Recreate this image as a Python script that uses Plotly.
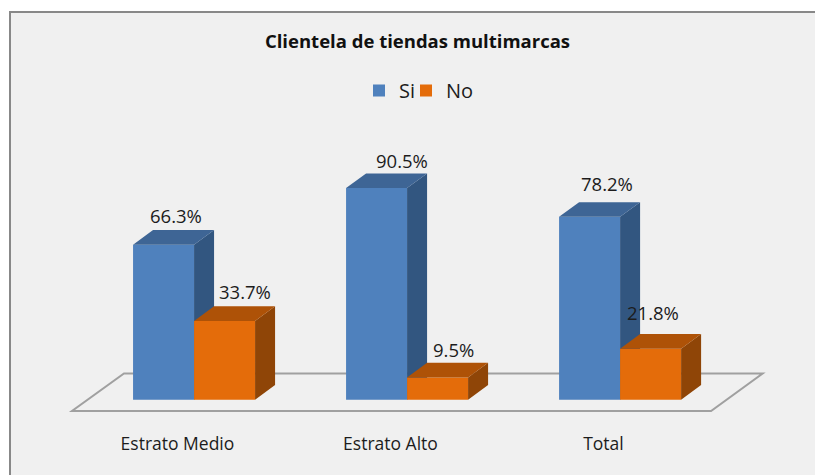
import plotly.graph_objects as go

categories = ["Estrato Medio", "Estrato Alto", "Total"]
si_values = [66.3, 90.5, 78.2]
no_values = [33.7, 9.5, 21.8]
positions = [0, 1, 2]

W, H = 815, 475
BAR_W = 0.2864
DEPTH_X, DEPTH_Y = 0.0939, 6.29
FONT = "Open Sans"
TEXT = "#1c1c1c"
X_RANGE = [-0.911, 2.915]
BOTTOM = 44
TICK_SHIFT = -0.078

# label nudges in pixels (from the front-top centre of each bar)
SI_LABEL = [(12, 29), (25, 28), (17, 33)]
NO_LABEL = [(20, 29), (16, 28), (2, 36)]


def faces(xs, vals, left):
    side_x, side_y, top_x, top_y = [], [], [], []
    for x, v in zip(xs, vals):
        l = x + left
        r = l + BAR_W
        side_x += [r, r + DEPTH_X, r + DEPTH_X, r, None]
        side_y += [0, DEPTH_Y, v + DEPTH_Y, v, None]
        top_x += [l, l + DEPTH_X, r + DEPTH_X, r, None]
        top_y += [v, v + DEPTH_Y, v + DEPTH_Y, v, None]
    return side_x, side_y, top_x, top_y


def face(x, y, color, xa, ya):
    return go.Scatter(x=x, y=y, mode="lines", fill="toself", fillcolor=color,
                      line=dict(width=0, color=color), showlegend=False,
                      hoverinfo="skip", xaxis=xa, yaxis=ya)


fig = go.Figure()
sx, sy, tx, ty = faces(positions, si_values, -BAR_W)
fig.add_trace(go.Bar(name="Si", x=positions, y=si_values, width=BAR_W, offset=-BAR_W,
                     marker=dict(color="#4f81bd", line=dict(width=0)), xaxis="x", yaxis="y",
                     legend="legend"))
fig.add_trace(face(sx, sy, "#325680", "x", "y"))
fig.add_trace(face(tx, ty, "#3e6595", "x", "y"))

sx, sy, tx, ty = faces(positions, no_values, 0)
fig.add_trace(go.Bar(name="No", x=positions, y=no_values, width=BAR_W, offset=0,
                     marker=dict(color="#e46c0a", line=dict(width=0)), xaxis="x2", yaxis="y2",
                     legend="legend2"))
fig.add_trace(face(sx, sy, "#8f4507", "x2", "y2"))
fig.add_trace(face(tx, ty, "#ae5207", "x2", "y2"))

annotations = []
for p, v, (dx, dy) in zip(positions, si_values, SI_LABEL):
    annotations.append(dict(x=p - BAR_W / 2, y=v, xref="x", yref="y", text=f"{v:.1f}%", showarrow=False,
                            xshift=dx, yshift=dy, font=dict(family=FONT, size=18.5, color=TEXT)))
for p, v, (dx, dy) in zip(positions, no_values, NO_LABEL):
    annotations.append(dict(x=p + BAR_W / 2, y=v, xref="x", yref="y", text=f"{v:.1f}%", showarrow=False,
                            xshift=dx, yshift=dy, font=dict(family=FONT, size=18.5, color=TEXT)))

pw = H - BOTTOM
shapes = [
    dict(type="rect", xref="paper", yref="paper", x0=10 / W, x1=1.02, y0=-0.12, y1=(pw - 12) / pw,
         fillcolor="#f0f0f0", line=dict(color="#888888", width=2), layer="below"),
    dict(type="path", xref="x", yref="y", layer="below", fillcolor="#f0f0f0",
         path="M -0.573 -4.83 L 2.427 -4.83 L 2.669 11.2 L -0.329 11.2 Z",
         line=dict(color="#a0a0a0", width=2)),
]

# y range follows the plot height so that 0 stays on the same pixel row
y_per_px = 1 / 2.338
Y_RANGE = [-(pw - 399.7) * y_per_px, 399.7 * y_per_px]

legend_style = dict(orientation="h", xanchor="left", y=1 - 71 / pw, yanchor="top",
                    bgcolor="rgba(0,0,0,0)", font=dict(family=FONT, size=20, color=TEXT))

fig.update_layout(
    width=W, height=H, margin=dict(l=0, r=0, t=0, b=BOTTOM),
    paper_bgcolor="white", plot_bgcolor="rgba(0,0,0,0)", autosize=False,
    title=dict(text="<b>Clientela de tiendas multimarcas</b>", x=417.5 / W, xanchor="center",
               y=1 - 42 / H, yanchor="middle", font=dict(family=FONT, size=18.5, color="#111111")),
    legend=dict(x=359 / W, **legend_style),
    legend2=dict(x=406 / W, **legend_style),
    xaxis=dict(range=X_RANGE, tickmode="array", tickvals=[p + TICK_SHIFT for p in positions],
               ticktext=categories, showgrid=False, zeroline=False, showline=False, ticks="",
               tickfont=dict(family=FONT, size=17.5, color=TEXT)),
    yaxis=dict(range=Y_RANGE, visible=False),
    xaxis2=dict(range=X_RANGE, overlaying="x", visible=False),
    yaxis2=dict(range=Y_RANGE, overlaying="y", visible=False),
    shapes=shapes, annotations=annotations,
)
fig.write_html("out.html", config={"displayModeBar": False},
               post_script="document.body.style.margin='0';")
